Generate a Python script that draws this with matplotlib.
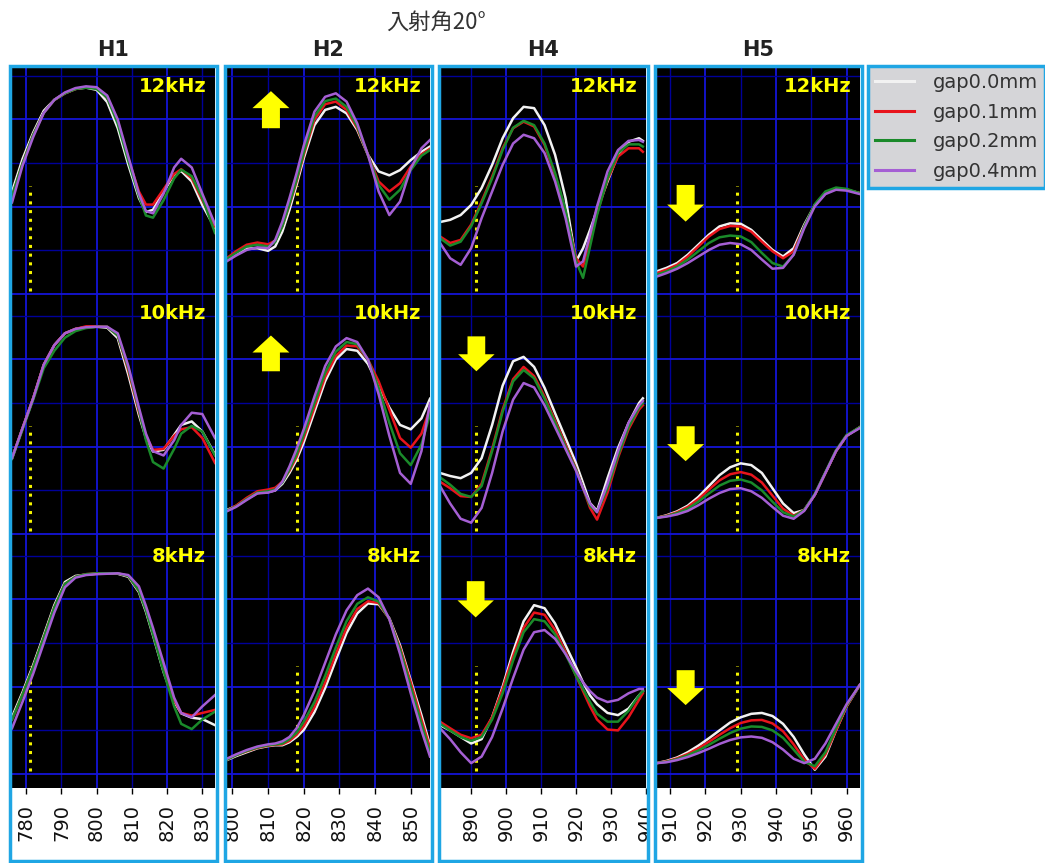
import matplotlib
matplotlib.use('Agg')
import matplotlib.pyplot as plt
from matplotlib.patches import Rectangle, FancyArrow
from matplotlib.lines import Line2D
from matplotlib.transforms import Bbox, TransformedBbox

plt.rcParams['font.family'] = ['DejaVu Sans']

# ---- data (y in relative units, 10 per grid step) ----
columns = ['H1', 'H2', 'H4', 'H5']
freqs = ['12kHz', '10kHz', '8kHz']
gap_labels = ['gap0.0mm', 'gap0.1mm', 'gap0.2mm', 'gap0.4mm']

h1_x = [776, 779, 782, 785, 788, 791, 794, 797, 800, 803, 806, 809, 812, 814, 816, 819, 822, 824, 827, 830, 833.6]
h1_12_g00 = [23.5, 31, 37, 42, 44.5, 46, 47, 47.3, 46.8, 44, 38, 29.6, 22, 18.8, 19.3, 23.5, 27.3, 28.2, 25.8, 20.4, 15.1]
h1_12_g01 = [22.5, 30, 36.5, 41.5, 44.5, 46, 47, 47.4, 47.2, 45, 39.5, 31, 23.5, 20.5, 20.5, 24, 27.5, 28.6, 26.5, 21.5, 15.5]
h1_12_g02 = [22.5, 30, 36.5, 41.5, 44.5, 46, 47, 47.3, 47, 45, 39, 30.5, 22.5, 18, 17.5, 21.5, 26.5, 28.5, 27, 22, 14]
h1_12_g04 = [21, 29.5, 36, 41.5, 44.5, 46.2, 47.2, 47.6, 47.4, 45.5, 40, 31.5, 23, 19, 18.5, 23, 29, 31, 29, 23, 16]
h1_10_g00 = [17.4, 24.3, 31.1, 38.8, 43.3, 46, 47, 47.4, 47.5, 47.3, 44.9, 36.5, 27.3, 22, 18.9, 19.3, 22.7, 25, 25.8, 23.5, 18.2]
h1_10_g01 = [17.4, 24.3, 31.1, 38.8, 43.3, 46, 47, 47.6, 47.6, 47.5, 45.5, 37.5, 28, 22.5, 19.3, 19.5, 22.5, 24, 24.5, 22, 16.3]
h1_10_g02 = [17.2, 24, 30.8, 38, 42, 45, 46.5, 47.2, 47.5, 47.5, 45.5, 38, 28.5, 21.5, 16.5, 15, 19.5, 23, 24.8, 23.5, 18]
h1_10_g04 = [17.4, 24.3, 31.1, 38.8, 43.3, 46, 47, 47.4, 47.5, 47.5, 46, 38.5, 29, 23, 19, 18, 21.5, 25, 27.8, 27.5, 22]
h1_8_g00 = [13.1, 18.8, 25, 31.8, 38.7, 44, 45.4, 45.7, 45.9, 45.9, 45.9, 45.2, 41.7, 37.2, 31.8, 23.4, 16.6, 13.9, 12.9, 12.6, 11.2]
h1_8_g01 = [12.5, 18.3, 24.5, 31.3, 38.2, 43.6, 45.2, 45.8, 46, 46, 46, 45.4, 42, 37.8, 32.5, 24, 17, 14, 13.4, 14, 14.7]
h1_8_g02 = [12.5, 18.3, 24.5, 31.3, 38.2, 43.6, 45.2, 45.8, 46, 46, 46, 45.4, 42, 37.5, 32, 23.5, 15.5, 11.5, 10.3, 12.5, 14.3]
h1_8_g04 = [10.5, 16.6, 23, 30, 37, 42.8, 45, 45.6, 45.8, 45.9, 46, 45.6, 43, 38.5, 33.5, 25.5, 17.5, 14, 13, 15.5, 18.1]

h2_x = [798.4, 801, 804, 807, 810, 812, 814, 816, 818, 820, 823, 826, 829, 832, 835, 838, 841, 844, 847, 850, 853, 855.4]
h2_12_g00 = [7.9, 9.0, 10.4, 10.5, 9.9, 10.9, 14.3, 19.3, 25, 31.1, 38.7, 42.2, 42.9, 41.4, 37.6, 31.9, 28.1, 27.2, 28.4, 30.7, 32.6, 33.8]
h2_12_g01 = [8.2, 9.8, 11.3, 11.8, 11.4, 12.2, 15.5, 20.4, 25.8, 31.9, 39.9, 43.5, 44.1, 42.2, 38, 31.9, 25.8, 23.5, 25.4, 29.2, 32, 33.3]
h2_12_g02 = [8, 9.4, 10.9, 11.3, 10.9, 11.9, 15.5, 20.6, 26.2, 32.4, 40.7, 44.2, 44.8, 42.9, 38.4, 31.9, 25, 21.6, 23.9, 28.4, 31.7, 33]
h2_12_g04 = [7.5, 8.8, 10.1, 10.7, 10.5, 12.4, 16.6, 22, 27.7, 34, 41.8, 45.2, 46, 44.1, 39.1, 31.9, 23.5, 18.1, 21.2, 28.8, 33.4, 35.3]
h2_10_g00 = [5.5, 6.4, 8, 9.4, 9.6, 10, 11.5, 14, 17, 21, 28, 35, 40, 42.4, 42, 39, 34, 29, 25, 24, 26.5, 31]
h2_10_g01 = [5.3, 6.5, 8.3, 9.8, 10.2, 10.6, 12, 14.5, 17.7, 22, 29, 36, 40.8, 43.2, 43, 40, 35, 28.5, 22, 19.8, 23, 28.8]
h2_10_g02 = [5.3, 6.3, 8, 9.5, 9.8, 10.2, 11.8, 14.8, 18.3, 22.8, 30, 37, 41.8, 44, 43.5, 40, 33.5, 25.5, 18.5, 15.8, 20.5, 27.5]
h2_10_g04 = [5.2, 6.2, 7.8, 9.3, 9.5, 10, 12, 15.5, 19.5, 24, 31.5, 38.5, 43, 44.9, 44, 40, 32, 22.5, 14, 11.5, 19, 30]
h2_8_g00 = [3.2, 4.1, 5, 5.9, 6.4, 6.6, 6.6, 7.3, 8.5, 10.1, 14.2, 19.7, 26.1, 32.3, 36.8, 39.1, 38.9, 35.7, 29.5, 21.5, 13.5, 6.6]
h2_8_g01 = [3.3, 4.3, 5.2, 6, 6.5, 6.7, 6.8, 7.6, 9, 11, 15.3, 21, 27.5, 33.5, 37.8, 39.6, 39.2, 35.5, 29, 21, 12.5, 6]
h2_8_g02 = [3.3, 4.3, 5.3, 6.1, 6.6, 6.8, 7, 8, 9.5, 12, 16.5, 22.5, 29, 35, 39, 40.5, 39.5, 35.5, 28.5, 20, 11.5, 5]
h2_8_g04 = [3.5, 4.5, 5.5, 6.3, 6.8, 7.0, 7.5, 8.5, 10.5, 13.5, 19, 25.5, 32, 37.5, 41, 42.5, 40.5, 35.5, 27.5, 18.5, 10, 4]

h4_x = [881.1, 884, 887, 890, 893, 896, 899, 902, 905, 908, 911, 914, 917, 920, 922, 924, 926, 929, 932, 935, 938, 939.1]
h4_12_g00 = [16.5, 17, 18.1, 20.4, 24.3, 29.6, 35.7, 40.3, 42.9, 42.6, 38.7, 31.9, 22, 7.5, 10.5, 14.7, 19.3, 25.8, 31.9, 34.9, 35.7, 35.1]
h4_12_g01 = [13.2, 11.7, 12.4, 15.9, 21.2, 26.9, 33.4, 38, 39.5, 38.4, 34.2, 27.3, 18.9, 8.2, 6.3, 12.8, 18.5, 26.2, 31.5, 33.4, 33.4, 32.6]
h4_12_g02 = [12.8, 11.1, 12, 15.5, 20.8, 26.5, 33, 38.1, 39.7, 38.7, 34.5, 27.7, 19.3, 7.5, 3.7, 10.9, 18.1, 26.5, 32.3, 34.3, 34.3, 33.8]
h4_12_g04 = [11.7, 8.2, 6.7, 10.5, 17.4, 23.5, 29.6, 34.5, 36.5, 35.7, 32.3, 25.8, 17.4, 6.3, 7.5, 13.6, 20.1, 28.1, 33, 35.1, 35.3, 34.9]
h4_10_g00 = [14, 13.3, 12.8, 14, 17.4, 25, 34, 39.6, 40.6, 38.3, 33.5, 27.7, 22, 16.2, 11.7, 7.1, 5.3, 12.8, 19.7, 25.4, 30, 31.1]
h4_10_g01 = [12, 10.5, 8.7, 8.5, 11.5, 19.5, 28.5, 35.5, 38.3, 36.2, 31.5, 26, 20.5, 15, 10.5, 6, 3.3, 9.5, 17.5, 24, 28.5, 29.5]
h4_10_g02 = [13, 11.3, 9.2, 8.5, 11, 19, 28, 35, 37.6, 35.7, 31, 25.5, 20, 14.8, 10.5, 6.5, 5, 10.5, 18, 24.5, 29, 30]
h4_10_g04 = [11, 7, 3.5, 2.6, 6, 14, 23.5, 30.8, 34.6, 33.6, 29.5, 24.5, 19.5, 14.5, 10.5, 7, 5, 11.5, 19, 25.5, 29.5, 30.5]
h4_8_g00 = [11.2, 10, 8.5, 7, 8, 13, 20, 28, 35, 38.7, 38, 34.5, 29.5, 24.5, 21, 18, 16, 14, 13.5, 15, 18, 19]
h4_8_g01 = [12, 10.5, 9, 8.2, 9, 13, 19.5, 27, 33.5, 37, 36.5, 33, 28, 22.5, 19, 15.5, 12.5, 10.2, 10, 13, 17, 18.5]
h4_8_g02 = [11.5, 10, 8.5, 7.6, 8.5, 12.5, 18.5, 26, 32.5, 35.5, 35, 32, 27.5, 22.5, 19.5, 16.5, 13.8, 12, 12, 14.5, 18, 19]
h4_8_g04 = [10.5, 8, 5, 2.5, 4, 8.5, 15, 22, 28.5, 32.5, 33, 31, 27.5, 23.5, 21, 19, 17.5, 16.5, 17, 18.5, 19.5, 19.5]

h5_x = [906.2, 909, 912, 915, 918, 921, 924, 927, 930, 933, 936, 939, 942, 945, 948, 951, 954, 957, 960, 963.8]
h5_12_g00 = [5.2, 6, 7.1, 9, 11.3, 13.6, 15.5, 16.2, 16.1, 14.7, 12.4, 10.1, 8.6, 10.5, 15.9, 20.4, 23.1, 24.1, 23.9, 23.1]
h5_12_g01 = [4.8, 5.6, 6.7, 8.6, 10.9, 13.2, 14.9, 15.6, 15.5, 14.3, 12, 9.8, 8.2, 9.8, 15.5, 20.4, 23.1, 24.1, 23.9, 23.1]
h5_12_g02 = [4.4, 5.2, 6.3, 7.9, 9.8, 11.7, 13, 13.4, 13.2, 11.9, 9.4, 7.1, 6.3, 9, 15.5, 20.6, 23.5, 24.4, 24.1, 23.1]
h5_12_g04 = [4, 4.8, 5.8, 7.1, 8.6, 10.1, 11.3, 11.7, 11.4, 10.1, 7.9, 5.8, 6, 9, 15.1, 20.1, 22.9, 23.9, 23.7, 22.9]
h5_10_g00 = [3.7, 4.3, 5.2, 6.5, 8.5, 11, 13.5, 15.3, 16.2, 15.8, 14, 10.5, 7, 4.8, 5.5, 9, 14, 19, 22.5, 24.5]
h5_10_g01 = [3.7, 4.2, 5, 6.2, 8, 10.2, 12.3, 13.7, 14.2, 13.6, 11.8, 8.8, 5.8, 4.2, 5.5, 9, 14, 19, 22.5, 24.5]
h5_10_g02 = [3.7, 4.1, 4.8, 5.8, 7.4, 9.3, 11.1, 12.2, 12.5, 11.8, 10, 7.4, 5, 4, 5.5, 9.2, 14.2, 19.2, 22.7, 24.5]
h5_10_g04 = [3.7, 4, 4.5, 5.3, 6.6, 8.1, 9.4, 10.3, 10.5, 9.8, 8.3, 6.2, 4.2, 3.5, 5.3, 9, 14, 19, 22.5, 24.3]
h5_8_g00 = [2.5, 3, 3.8, 5, 6.5, 8.2, 10, 11.8, 13, 13.8, 14, 13.3, 11.5, 8.5, 4.5, 1, 4, 10, 15.5, 20.5]
h5_8_g01 = [2.5, 2.9, 3.6, 4.6, 5.9, 7.4, 9, 10.5, 11.7, 12.3, 12.4, 11.6, 9.8, 6.8, 3.3, 1.2, 4.5, 10, 15.5, 20.5]
h5_8_g02 = [2.5, 2.8, 3.4, 4.3, 5.4, 6.7, 8.1, 9.4, 10.4, 10.9, 10.8, 10, 8.3, 5.6, 2.8, 1.8, 5, 10.5, 15.7, 20.5]
h5_8_g04 = [2.5, 2.7, 3.2, 3.9, 4.8, 5.8, 6.9, 7.8, 8.4, 8.6, 8.3, 7.3, 5.6, 3.5, 2.5, 3.5, 7, 11.5, 16, 20.5]

# vertical yellow dotted marker in each column
marker_x = [781.1, 818, 891.4, 929]
marker_top = 24.7

# yellow block arrows: column, row, x, tail y, tip y
arrow_col = [1, 1, 2, 2, 3, 3, 3]
arrow_row = [0, 1, 1, 2, 0, 1, 2]
arrow_x = [810.8, 810.8, 891.5, 891.3, 914.4, 914.4, 914.4]
arrow_tail = [38, 37.3, 45.3, 44.2, 25, 24.7, 23.8]
arrow_tip = [46.5, 45.5, 37.3, 35.9, 16.6, 16.7, 15.8]

col_x = [h1_x, h2_x, h4_x, h5_x]
col_curves = [
    [[h1_12_g00, h1_12_g01, h1_12_g02, h1_12_g04], [h1_10_g00, h1_10_g01, h1_10_g02, h1_10_g04], [h1_8_g00, h1_8_g01, h1_8_g02, h1_8_g04]],
    [[h2_12_g00, h2_12_g01, h2_12_g02, h2_12_g04], [h2_10_g00, h2_10_g01, h2_10_g02, h2_10_g04], [h2_8_g00, h2_8_g01, h2_8_g02, h2_8_g04]],
    [[h4_12_g00, h4_12_g01, h4_12_g02, h4_12_g04], [h4_10_g00, h4_10_g01, h4_10_g02, h4_10_g04], [h4_8_g00, h4_8_g01, h4_8_g02, h4_8_g04]],
    [[h5_12_g00, h5_12_g01, h5_12_g02, h5_12_g04], [h5_10_g00, h5_10_g01, h5_10_g02, h5_10_g04], [h5_8_g00, h5_8_g01, h5_8_g02, h5_8_g04]],
]
xlims = [(775.9, 833.6), (798.4, 855.4), (881.1, 939.1), (906.2, 963.8)]
xticks = [[780, 790, 800, 810, 820, 830], [800, 810, 820, 830, 840, 850],
          [890, 900, 910, 920, 930, 940], [910, 920, 930, 940, 950, 960]]

# ---- styling / layout (pixels of the 1045x863 canvas) ----
W, H = 1045, 863
gap_colors = ['#f2f2f2', '#e8141c', '#1a8a2a', '#a55fd4']
box_color = '#1fa6e4'
grid_bright = '#1414d8'
grid_dim = '#00009a'

col_left = [11.7, 226.7, 440, 656.7]
col_right = [215, 430, 646, 860]
row_top = [68, 308, 548]
row_bot = [308, 548, 788]
box_l = [10, 224.7, 438.5, 654.5]
box_r = [217, 432, 647.5, 862]
label_cy = [87, 313, 556]


def frac_rect(l, t, r, b):
    return [l / W, 1 - b / H, (r - l) / W, (b - t) / H]


fig = plt.figure(figsize=(W / 100, H / 100), dpi=100)
fig.patch.set_facecolor('white')

for c in range(4):
    clip = TransformedBbox(Bbox.from_extents(box_l[c] / W, 0, box_r[c] / W, 1), fig.transFigure)
    for r in range(3):
        ax = fig.add_axes(frac_rect(col_left[c], row_top[r], col_right[c], row_bot[r]))
        ax.set_facecolor('black')
        ax.set_xlim(*xlims[c])
        ax.set_ylim(-3.2, 51.8)
        for s in ax.spines.values():
            s.set_visible(False)

        # grid
        v = int(xlims[c][0] // 10 * 10)
        while v <= xlims[c][1]:
            if v >= xlims[c][0]:
                bright = (v % 20 == 0)
                ax.axvline(v, color=grid_bright if bright else grid_dim, lw=1.3 if bright else 1.0, zorder=1)
            v += 10
        for hy in range(0, 51, 10):
            bright = (hy % 20 == 0)
            ax.axhline(hy, color=grid_bright if bright else grid_dim, lw=1.3 if bright else 1.0, zorder=1)

        # marker line
        ax.plot([marker_x[c], marker_x[c]], [0.6, marker_top], color='#f4f400', lw=2.2,
                linestyle=(0, (1, 1.85)), dash_capstyle='butt', zorder=2)

        # curves
        for k in range(4):
            ax.plot(col_x[c], col_curves[c][r][k], color=gap_colors[k], lw=1.8,
                    solid_joinstyle='round', zorder=3 + k * 0.1)

        # frequency label
        wpx = col_right[c] - col_left[c]
        ax.text((col_right[c] - 9 - col_left[c]) / wpx, (row_bot[r] - label_cy[r]) / 240, freqs[r],
                transform=ax.transAxes, ha='right', va='center', fontsize=14,
                fontweight='bold', color='#ffff00', zorder=6)

        ax.set_yticks([])
        ax.set_xticks(xticks[c])
        if r < 2:
            ax.tick_params(axis='x', bottom=False, labelbottom=False)
        else:
            ax.tick_params(axis='x', direction='out', length=4.5, width=1.0, color='black',
                           pad=7, labelsize=14, labelrotation=90, labelcolor='#111111')
            for t in ax.xaxis.get_major_ticks():
                t.label1.set_clip_box(clip)
                t.label1.set_clip_on(True)

        # arrows
        for i in range(len(arrow_x)):
            if arrow_col[i] == c and arrow_row[i] == r:
                ppu = wpx / (xlims[c][1] - xlims[c][0])
                ax.add_patch(FancyArrow(arrow_x[i], arrow_tail[i], 0, arrow_tip[i] - arrow_tail[i],
                                        width=18 / ppu, head_width=37 / ppu, head_length=3.9,
                                        length_includes_head=True, color='#ffff00', lw=0, zorder=5))

    # column frame and title
    fig.add_artist(Rectangle((box_l[c] / W, 1 - 861 / H), (box_r[c] - box_l[c]) / W, (861 - 66) / H,
                             transform=fig.transFigure, fill=False, edgecolor=box_color, lw=2.5, zorder=10))
    fig.text((box_l[c] + box_r[c]) / 2 / W, 1 - 50.5 / H, columns[c], ha='center', va='center',
             fontsize=15, fontweight='bold', color='#222222')

fig.text(436 / W, 1 - 22.5 / H, '入射角20°', ha='center', va='center', fontsize=16,
         color='#333333', family=['Noto Sans CJK JP', 'DejaVu Sans'])

handles = [Line2D([], [], color=gap_colors[k], lw=2.2) for k in range(4)]
leg = fig.legend(handles, gap_labels, loc='upper left', bbox_to_anchor=(868 / W, 1 - 66 / H),
                 frameon=True, fancybox=False, edgecolor=box_color, facecolor='#d5d5d8', framealpha=1,
                 fontsize=14, handlelength=2.0, handletextpad=1.0, borderpad=0.35, labelspacing=0.55,
                 borderaxespad=0, labelcolor='#333333')
leg.get_frame().set_linewidth(2.5)

fig.savefig('out.png', dpi=100, facecolor='white')
